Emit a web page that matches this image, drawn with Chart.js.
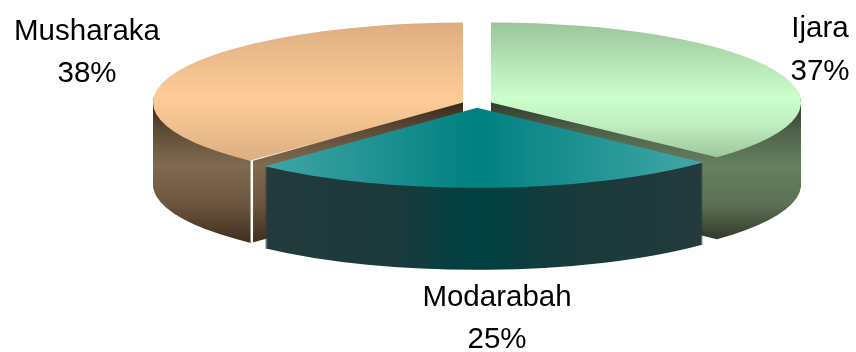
<!DOCTYPE html>
<html>
<head>
<meta charset="utf-8">
<title>Financing modes</title>
<script src="https://cdn.jsdelivr.net/npm/chart.js@4"></script>
<style>
    html, body { margin: 0; background: #fff; }
    canvas { display: block; }
</style>
</head>
<body>
<canvas id="pie" width="856" height="352"></canvas>
<script>
const categories = ['Ijara', 'Modarabah', 'Musharaka']
const shares = [37, 25, 38]

const pieRadius = 310
const sliceGap = 15
const squash = 0.258    // flattens the circle into an ellipse
const depth = 82        // height of the side walls in px
const drawOrder = [2, 0, 1]

// label anchors: centre x, first baseline, second baseline
const labelAnchors = [
    [820, 37, 80],
    [497, 306, 348],
    [87, 40, 82]
]

const canvas = document.getElementById('pie')
const ctx = canvas.getContext('2d')
const centerY = 104

// gradients are given in screen y, the pie is drawn with a squashed context
function toPieY(y) {
    return centerY + (y - centerY) / squash
}

function verticalFill(stops) {
    const g = ctx.createLinearGradient(0, toPieY(stops[0][0]), 0, toPieY(stops[stops.length - 1][0]))
    const top = stops[0][0]
    const span = stops[stops.length - 1][0] - top
    stops.forEach(s => g.addColorStop((s[0] - top) / span, s[1]))
    return g
}

function horizontalFill(stops) {
    const g = ctx.createLinearGradient(stops[0][0], 0, stops[stops.length - 1][0], 0)
    const left = stops[0][0]
    const span = stops[stops.length - 1][0] - left
    stops.forEach(s => g.addColorStop((s[0] - left) / span, s[1]))
    return g
}

const topFills = [
    verticalFill([[22, '#9bc49b'], [60, '#b4e2b4'], [98, '#ccffcc'], [125, '#bfeebf'], [160, '#9bc49b']]),
    horizontalFill([[262, '#42a6a6'], [477, '#008080'], [700, '#42a6a6']]),
    verticalFill([[22, '#dbae80'], [60, '#eebd8c'], [98, '#ffcc99'], [125, '#f0c08f'], [162, '#dbae80']])
]

const wallFills = [
    verticalFill([[100, '#2f3a2c'], [130, '#4e6049'], [165, '#66805f'], [205, '#5c7055'], [245, '#2b2f22']]),
    horizontalFill([[262, '#243a3c'], [395, '#1c3a3c'], [455, '#033f40'], [490, '#004040'], [560, '#183a3c'], [700, '#243a3c']]),
    verticalFill([[100, '#33261a'], [130, '#5e4b37'], [165, '#806a50'], [205, '#6c553e'], [245, '#3c2b1c']])
]

// push a slice out along its middle angle, the arc is restored after drawing
// x is rounded so the straight top edges stay on whole pixels
function drawExploded(arc, draw) {
    const mid = (arc.startAngle + arc.endAngle) / 2
    const x = arc.x
    const y = arc.y
    arc.x = Math.round(x + Math.cos(mid) * sliceGap)
    arc.y = y + Math.sin(mid) * sliceGap
    draw()
    arc.x = x
    arc.y = y
}

function drawWall(arc, fill) {
    const options = arc.options
    const y = arc.y
    arc.options = Object.assign({}, options, { backgroundColor: fill })
    for (let d = depth; d > 0; d--) {
        arc.y = y + d / squash
        arc.draw(ctx)
    }
    arc.y = y
    arc.options = options
}

// thin highlight along the cut corner of the left slice
function drawCornerLine(arc) {
    const ox = arc.x
    const oy = centerY + (arc.y - centerY) * squash
    const px = ox + Math.cos(arc.startAngle) * pieRadius
    const py = oy + Math.sin(arc.startAngle) * pieRadius * squash
    ctx.save()
    ctx.setTransform(1, 0, 0, 1, 0, 0)
    ctx.strokeStyle = '#fff'
    ctx.lineWidth = 2.5
    ctx.beginPath()
    ctx.moveTo(px + 1, py)
    ctx.lineTo(px + 1, py + depth)
    ctx.stroke()
    const endX = px + (ox - px) * 0.45
    const endY = py + (oy - py) * 0.45
    const fade = ctx.createLinearGradient(px, py, endX, endY)
    fade.addColorStop(0, '#fff')
    fade.addColorStop(1, 'rgba(255,255,255,0)')
    ctx.strokeStyle = fade
    ctx.lineWidth = 1
    ctx.beginPath()
    ctx.moveTo(px, py)
    ctx.lineTo(endX, endY)
    ctx.stroke()
    ctx.restore()
}

const solidPie = {
    id: 'solidPie',
    beforeDatasetDraw(chart, args) {
        const arcs = args.meta.data
        ctx.save()
        ctx.translate(0, centerY)
        ctx.scale(1, squash)
        ctx.translate(0, -centerY)
        drawOrder.forEach(i => {
            drawExploded(arcs[i], () => {
                drawWall(arcs[i], wallFills[i])
                arcs[i].draw(ctx)
                if (i === 2) drawCornerLine(arcs[i])
            })
        })
        ctx.restore()
        return false
    },
    afterDraw() {
        ctx.save()
        ctx.font = '29.5px "Liberation Sans", Arial, sans-serif'
        ctx.fillStyle = '#000'
        ctx.textAlign = 'center'
        categories.forEach((name, i) => {
            const a = labelAnchors[i]
            ctx.fillText(name, a[0], a[1])
            ctx.fillText(shares[i] + '%', a[0], a[2])
        })
        ctx.restore()
    }
}

new Chart(canvas, {
    type: 'pie',
    data: {
        labels: categories,
        datasets: [{
            data: shares,
            backgroundColor: topFills,
            borderWidth: 0
        }]
    },
    options: {
        responsive: false,
        animation: false,
        radius: pieRadius,
        layout: { padding: { left: 98, bottom: 144 } },
        plugins: {
            legend: { display: false },
            tooltip: { enabled: false }
        }
    },
    plugins: [solidPie]
})
</script>
</body>
</html>
